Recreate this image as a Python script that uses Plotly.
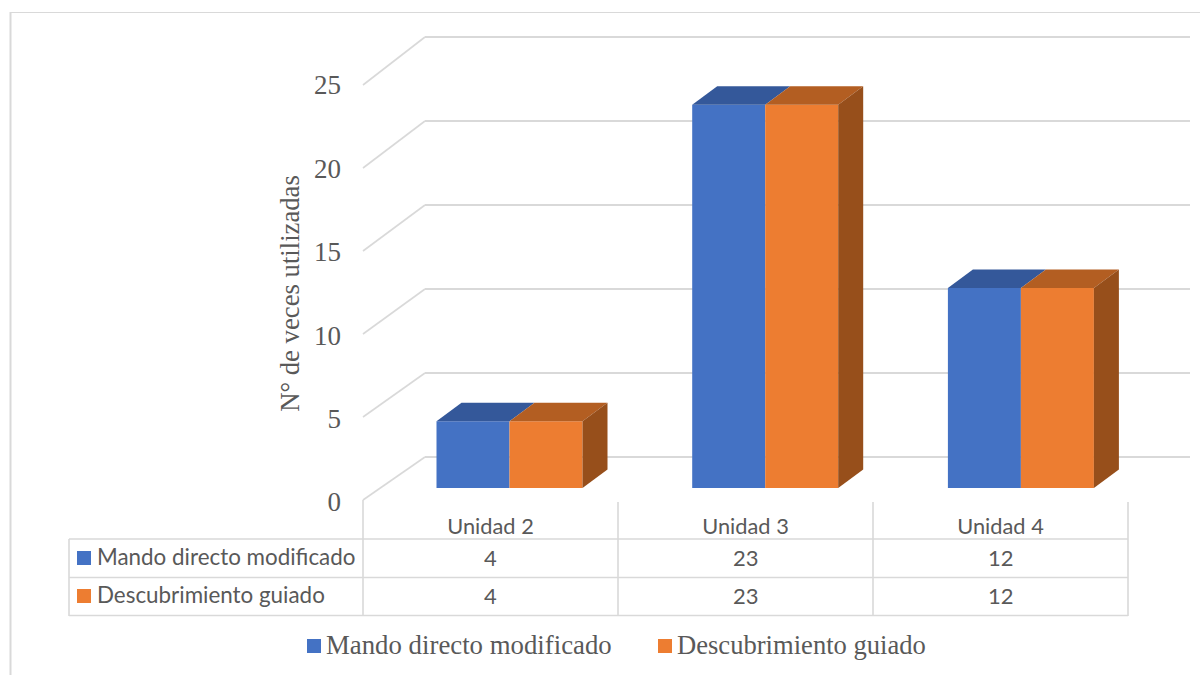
import plotly.graph_objects as go

categories = ["Unidad 2", "Unidad 3", "Unidad 4"]
series_names = ["Mando directo modificado", "Descubrimiento guiado"]
mando = [4, 23, 12]
descubrimiento = [4, 23, 12]
y_ticks = [0, 5, 10, 15, 20, 25]

W, H = 1200, 675
BLUE, ORANGE = "#4472C4", "#ED7D31"
BLUE_TOP, ORANGE_TOP = "#34589A", "#B35E22"
ORANGE_SIDE = "#974F1B"
GRID = "#D9D9D9"
TXT = "#595959"
SERIF = "Liberation Serif"
SANS = "Lato"

# pixel layout of the pseudo-3D box
X0, X_STEP = 509.5, 255.7
Y0, Y_UNIT = 488.0, 16.66
BAR_PX = 73.0
DX_PX, DY_PX = 25.0, 18.5
dx = DX_PX / X_STEP
dy = DY_PX / Y_UNIT
bw = BAR_PX / X_STEP


def px(x):
    return x / W


def py(y):
    return 1 - y / H


fig = go.Figure()
xs = list(range(len(categories)))
fig.add_trace(go.Bar(x=xs, y=mando, name=series_names[0], marker=dict(color=BLUE, line_width=0)))
fig.add_trace(go.Bar(x=xs, y=descubrimiento, name=series_names[1], marker=dict(color=ORANGE, line_width=0)))


def face(xv, yv, color):
    fig.add_trace(go.Scatter(x=xv, y=yv, mode="lines", fill="toself", fillcolor=color,
                             line=dict(width=0), hoverinfo="skip", showlegend=False))


for i in xs:
    for k, (vals, col) in enumerate([(mando, BLUE_TOP), (descubrimiento, ORANGE_TOP)]):
        l = i - bw + k * bw
        r = l + bw
        v = vals[i]
        face([l, l + dx, r + dx, r, l], [v, v + dy, v + dy, v, v], col)
    r = i + bw
    v = descubrimiento[i]
    face([r, r + dx, r + dx, r, r], [0, dy, v + dy, v, 0], ORANGE_SIDE)

shapes = []


def seg(x0, y0, x1, y1, w=1.6):
    shapes.append(dict(type="line", xref="paper", yref="paper", x0=px(x0), x1=px(x1),
                       y0=py(y0), y1=py(y1), line=dict(color=GRID, width=w), layer="below"))


# walls: back wall and left wall gridlines
for t in y_ticks:
    front = 500 - 16.6 * t
    back = 457 - 16.8 * t
    seg(363, front, 425, back, 1.6)
    seg(425, back, 1190, back, 2)

# data table lines
for x in [363, 618, 873, 1128]:
    seg(x, 500 if x == 363 else 502, x, 616, 1.6)
seg(69, 539, 69, 616, 1.6)
for y in [539, 577.5, 615.5]:
    seg(69, y, 1128, y, 1.6)

# outer frame
seg(10.5, 12, 10.5, 675, 2)
seg(10, 12.5, 1200, 12.5, 1.2)

annotations = []


def swatch(x, y, color):
    shapes.append(dict(type="rect", xref="paper", yref="paper", x0=px(x), x1=px(x + 14),
                       y0=py(y), y1=py(y + 14), fillcolor=color, line_width=0))


def label(x, y, text, size, fam, anchor="left"):
    annotations.append(dict(xref="paper", yref="paper", x=px(x), y=py(y), text=text, showarrow=False,
                            xanchor=anchor, yanchor="middle", align=anchor,
                            font=dict(family=fam, size=size, color=TXT),
                            borderpad=0, borderwidth=0))


# table rows
for r, (name, vals, col, y) in enumerate([(series_names[0], mando, BLUE, 558),
                                          (series_names[1], descubrimiento, ORANGE, 596)]):
    swatch(77, y - 7, col)
    label(97, y - 1.5, name, 22.4, SANS)
    for i, v in enumerate(vals):
        annotations.append(dict(xref="x2", yref="paper", x=i, y=py(y - 1), text=str(v), showarrow=False,
                                xanchor="center", yanchor="middle",
                                font=dict(family=SANS, size=22, color=TXT)))

# legend
swatch(307, 639, BLUE)
label(326, 645, series_names[0], 26.8, SERIF)
swatch(658, 639, ORANGE)
label(677, 645, series_names[1], 26.6, SERIF)

fig.update_layout(
    width=W, height=H, autosize=False,
    margin=dict(l=0, r=0, t=0, b=0, autoexpand=False),
    paper_bgcolor="white", plot_bgcolor="rgba(0,0,0,0)",
    barmode="group", bargap=1 - 2 * bw, bargroupgap=0,
    showlegend=False, shapes=shapes, annotations=annotations,
    xaxis=dict(range=[-X0 / X_STEP, (W - X0) / X_STEP], visible=False, domain=[0, 1], fixedrange=True),
    yaxis=dict(range=[(Y0 - H) / Y_UNIT, Y0 / Y_UNIT], visible=False, domain=[0, 1], fixedrange=True),
    xaxis2=dict(domain=[px(363), px(1128)], range=[-0.5, 2.5],
                tickmode="array", tickvals=xs, ticktext=categories,
                anchor="free", position=py(511), side="bottom", showgrid=False, showline=False,
                zeroline=False, ticks="", fixedrange=True,
                tickfont=dict(family=SANS, size=21.8, color=TXT)),
    yaxis2=dict(domain=[py(502), py(85)], range=[0, 25],
                tickmode="array", tickvals=y_ticks, ticktext=[str(t) for t in y_ticks],
                anchor="free", position=px(341), side="left", showgrid=False, showline=False,
                zeroline=False, ticks="", fixedrange=True,
                tickfont=dict(family=SERIF, size=27, color=TXT),
                title=dict(text="N° de veces utilizadas", standoff=5,
                           font=dict(family=SERIF, size=26.7, color=TXT))),
)
# helper traces so the table and wall-scale axes are drawn
fig.add_trace(go.Scatter(x=xs, y=[None] * len(xs), xaxis="x2", yaxis="y", showlegend=False, hoverinfo="skip"))
fig.add_trace(go.Scatter(x=xs, y=[None] * len(xs), xaxis="x", yaxis="y2", showlegend=False, hoverinfo="skip"))

fig.write_html("out.html", config={"displayModeBar": False},
               post_script="document.body.style.margin='0';document.body.style.overflow='hidden';")
